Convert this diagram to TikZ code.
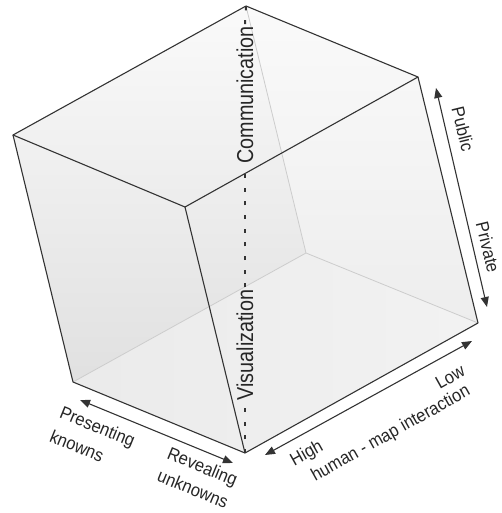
\documentclass[tikz,border=0pt]{standalone}
\usepackage{fontspec}
\setmainfont{Liberation Sans}
\newfontfamily\bigfont[FakeStretch=0.86]{Liberation Sans}
\newfontfamily\smallfont[FakeStretch=0.92]{Liberation Sans}
\usetikzlibrary{arrows.meta}
\begin{document}
\begin{tikzpicture}[x=1pt,y=-1pt,
  edge/.style={draw=black!80, line width=1.1pt, line join=round},
  hidden/.style={draw=black!20, line width=0.8pt},
  axisarrow/.style={draw=black!80, line width=1.1pt,
    {Triangle[length=10pt,width=8pt]}-{Triangle[length=10pt,width=8pt]}},
  biglabel/.style={font=\bigfont\fontsize{23}{27}\selectfont, text=black!85, inner sep=2pt, rotate=90},
  lab/.style={font=\smallfont\fontsize{18}{22}\selectfont, text=black!85, inner sep=0pt},
  dotline/.style={draw=black!80, line width=2pt, dash pattern=on 4pt off 9.7pt}]
\useasboundingbox (0,0) rectangle (501,513);
% cube vertices
\coordinate (T) at (246,6);
\coordinate (TR) at (418,77);
\coordinate (L) at (13,135);
\coordinate (F) at (185,207);
\coordinate (R) at (478,323);
\coordinate (BL) at (73,382);
\coordinate (B) at (245,453);
\coordinate (H) at (306,253);
% shading of back faces
\shade[top color=black!2, bottom color=black!12] (T) -- (L) -- (BL) -- (H) -- cycle;
\shade[top color=black!2, bottom color=black!7] (T) -- (TR) -- (R) -- (H) -- cycle;
\shade[left color=black!8, right color=black!5] (BL) -- (H) -- (R) -- (B) -- cycle;
% hidden edges
\draw[hidden] (T) -- (H) (H) -- (R) (H) -- (BL);
% vertical axis
\node[biglabel] (com) at (245,95) {Communication};
\node[biglabel] (vis) at (245,345) {Visualization};
\draw[dotline] (B) -- (vis.west);
\draw[dotline] (vis.east) -- (com.west);
\draw[dotline] (com.east) -- (T);
% front edges
\draw[edge] (T) -- (TR) -- (F) -- (L) -- cycle;
\draw[edge] (L) -- (BL) -- (B) -- (R) -- (TR);
\draw[edge] (F) -- (B);
% arrows
\coordinate (pubA) at (436,88);
\coordinate (pubB) at (487,307);
\coordinate (hiA) at (265,455);
\coordinate (hiB) at (472,341);
\coordinate (prA) at (80,400);
\coordinate (prB) at (233,463);
\draw[axisarrow] (pubA) -- (pubB);
\draw[axisarrow] (hiA) -- (hiB);
\draw[axisarrow] (prA) -- (prB);
% labels
\node[lab, rotate=-76.3] (public) at (463,129) {Public};
\node[lab, rotate=-76.3] (private) at (488,247) {Private};
\node[lab, rotate=29.3] (low) at (450,377) {Low};
\node[lab, rotate=29.3] (high) at (307,454) {High};
\node[lab, rotate=29.3] (hmi) at (391,434) {human - map interaction};
\node[lab, rotate=-22.3] (pres) at (97,428) {Presenting};
\node[lab, rotate=-22.3] (kn) at (77,446) {knowns};
\node[lab, rotate=-22.3] (rev) at (202,468) {Revealing};
\node[lab, rotate=-22.3] (unk) at (193,489) {unknowns};
\end{tikzpicture}
\end{document}
